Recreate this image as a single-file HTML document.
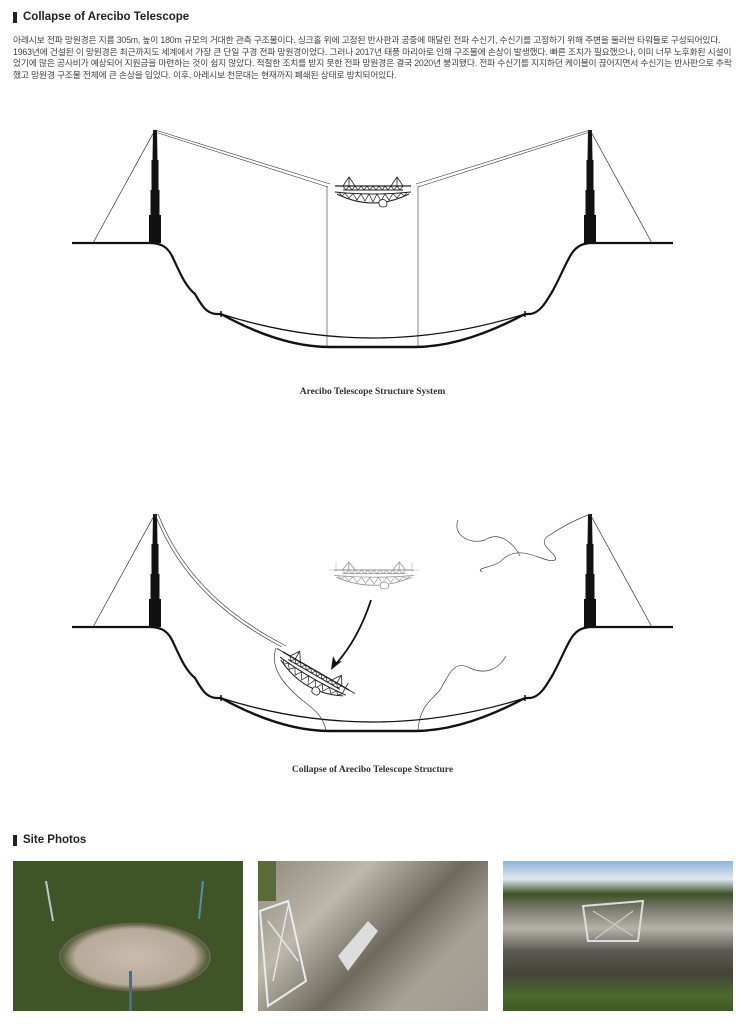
<!DOCTYPE html>
<html><head><meta charset="utf-8">
<style>
html,body{margin:0;padding:0;background:#fff;}
body{width:745px;height:1024px;position:relative;overflow:hidden;font-family:"Liberation Sans","Noto Sans CJK KR",sans-serif;}
.h{position:absolute;left:13px;font-size:11.5px;font-weight:bold;color:#222;display:flex;align-items:center;}
.h:before{content:"";display:inline-block;width:4px;height:11px;background:#222;margin-right:6px;}
.p{position:absolute;left:13px;top:35px;font-size:8.8px;line-height:11.6px;color:#444;letter-spacing:-0.2px;white-space:nowrap;}
.cap{position:absolute;width:745px;text-align:center;font-family:"Liberation Serif","DejaVu Serif",serif;font-weight:bold;font-size:9.5px;color:#333;}
.ph{position:absolute;top:861px;width:230px;height:150px;overflow:hidden;}
</style></head><body>
<div class="h" style="top:11px">Collapse of Arecibo Telescope</div>
<div class="p">아레시보 전파 망원경은 지름 305m, 높이 180m 규모의 거대한 관측 구조물이다. 싱크홀 위에 고정된 반사판과 공중에 매달린 전파 수신기, 수신기를 고정하기 위해 주변을 둘러싼 타워들로 구성되어있다.<br>1963년에 건설된 이 망원경은 최근까지도 세계에서 가장 큰 단일 구경 전파 망원경이었다. 그러나 2017년 태풍 마리아로 인해 구조물에 손상이 발생했다. 빠른 조치가 필요했으나, 이미 너무 노후화된 시설이<br>었기에 많은 공사비가 예상되어 지원금을 마련하는 것이 쉽지 않았다. 적절한 조치를 받지 못한 전파 망원경은 결국 2020년 붕괴됐다. 전파 수신기를 지지하던 케이블이 끊어지면서 수신기는 반사판으로 추락<br>했고 망원경 구조물 전체에 큰 손상을 입었다. 이후, 아레시보 천문대는 현재까지 폐쇄된 상태로 방치되어있다.</div>

<svg width="745" height="800" style="position:absolute;left:0;top:0" xmlns="http://www.w3.org/2000/svg">
<defs>
<g id="plat">
  <path d="M-30,0 L-24,-9 L-18,0 M-24,-9 L-24,0 M18,0 L24,-9 L30,0 M24,-9 L24,0" stroke="#222" stroke-width="0.8" fill="none"/>
  <line x1="-38" y1="0" x2="38" y2="0" stroke="#222" stroke-width="1.3"/>
  <line x1="-30" y1="4" x2="30" y2="4" stroke="#222" stroke-width="1"/>
  <path d="M-30,0 L-27,4 L-24,0 L-21,4 L-18,0 L-15,4 L-12,0 L-9,4 L-6,0 L-3,4 L0,0 L3,4 L6,0 L9,4 L12,0 L15,4 L18,0 L21,4 L24,0 L27,4 L30,0" stroke="#222" stroke-width="0.7" fill="none"/>
  <path d="M-38,6 Q0,10 38,6" stroke="#222" stroke-width="1" fill="none"/>
  <path d="M-36,8 Q0,26 36,8" stroke="#222" stroke-width="1" fill="none"/>
  <path d="M-34,6.5 L-31,10 L-28,7 L-24,12 L-20,7.5 L-16,14 L-12,8 L-8,15 L-4,8 L0,16 L4,8 L8,15 L12,8 L16,14 L20,7.5 L24,12 L28,7 L31,10 L34,6.5" stroke="#222" stroke-width="0.7" fill="none"/>
  <path d="M6,16 Q6,14 10,13.5 Q14,14 14,18 Q14,21 10,21 Q6,21 6,18Z" stroke="#222" stroke-width="0.8" fill="#fff"/>
</g>
<g id="tower">
  <polygon points="-2,0 2,0 2.5,30 3.5,30 3.5,60 4.5,60 4.5,85 6,85 6,113 -6,113 -6,85 -4.5,85 -4.5,60 -3.5,60 -3.5,30 -2.5,30" fill="#111"/>
</g>
<g id="base">
  <path d="M72,243 L150,243 C162,243 168,248 172,256 C178,268 184,285 195,294 C202,306 206,313 216,314 L221,314" stroke="#111" stroke-width="2.2" fill="none"/>
  <path d="M221,314 C250,330 290,347 330,347 L415,347 C455,347 495,330 525,314" stroke="#111" stroke-width="2.4" fill="none"/>
  <path d="M525,314 L530,314 C540,313 546,302 552,292 C560,278 566,262 572,253 C577,246 583,243 592,243 L673,243" stroke="#111" stroke-width="2.2" fill="none"/>
  <path d="M221,314 Q372,362 525,314" stroke="#111" stroke-width="1.3" fill="none"/>
  <line x1="221" y1="311" x2="221" y2="317" stroke="#111" stroke-width="1.5"/>
  <line x1="525" y1="311" x2="525" y2="317" stroke="#111" stroke-width="1.5"/>
  <use href="#tower" transform="translate(155,130)"/>
  <use href="#tower" transform="translate(590,130)"/>
  <line x1="155" y1="130" x2="93" y2="243" stroke="#333" stroke-width="0.7"/>
  <line x1="590" y1="130" x2="652" y2="243" stroke="#333" stroke-width="0.7"/>
</g>
</defs>

<use href="#base"/>
<g stroke="#333" stroke-width="0.6" fill="none">
  <line x1="155" y1="130" x2="330" y2="184"/><line x1="155" y1="132" x2="328" y2="187"/>
  <line x1="590" y1="130" x2="416" y2="184"/><line x1="590" y1="132" x2="418" y2="187"/>
  <line x1="327" y1="186" x2="327" y2="347"/><line x1="418" y1="186" x2="418" y2="347"/>
</g>
<use href="#plat" transform="translate(373,186)"/>

<g transform="translate(0,384)"><use href="#base"/></g>
<g transform="translate(374,570)" opacity="0.45"><use href="#plat" transform="scale(1.05,0.9)"/>
  <line x1="-45" y1="0" x2="45" y2="0" stroke="#555" stroke-width="0.6"/>
  <line x1="-38" y1="-8" x2="-38" y2="2" stroke="#555" stroke-width="0.6"/>
  <line x1="38" y1="-8" x2="38" y2="2" stroke="#555" stroke-width="0.6"/>
</g>
<g stroke="#444" stroke-width="0.7" fill="none">
  <path d="M155,514 C180,580 230,620 282,647"/>
  <path d="M158,514 C185,582 236,620 286,646"/>
  <path d="M276,648 C268,670 290,690 302,700 C315,710 322,715 326,730"/>
  <path d="M590,514 C575,520 560,528 548,536 C535,545 560,555 555,560 C545,565 520,540 500,562 C490,568 475,568 482,572"/>
  <path d="M458,520 C452,535 470,545 485,540 C500,530 515,545 520,556"/>
  <path d="M506,656 C498,670 485,675 470,668 C455,660 450,672 440,690 C432,700 420,705 418,730"/>
</g>
<g transform="translate(316,671) rotate(30)"><use href="#plat"/><line x1="-45" y1="0" x2="45" y2="0" stroke="#222" stroke-width="0.8"/><line x1="34" y1="-6" x2="34" y2="6" stroke="#222" stroke-width="0.8"/></g>
<path d="M371,600 C362,628 350,648 336,664" stroke="#111" stroke-width="1.8" fill="none"/>
<polygon points="331,670 333,656 336,662 342,661" fill="#111"/>
</svg>

<div class="cap" style="top:387px">Arecibo Telescope Structure System</div>
<div class="cap" style="top:765px">Collapse of Arecibo Telescope Structure</div>

<div class="h" style="top:834px">Site Photos</div>

<div class="ph" style="left:13px;background:radial-gradient(ellipse 75px 35px at 122px 96px,#c9bdaf 0,#b8a999 80%,#3f5427 100%),radial-gradient(ellipse at 30% 20%,#4e6a34,#2c401a 60%,#3e5a23);">
<svg width="230" height="150" style="position:absolute;left:0;top:0"><rect x="116" y="110" width="3" height="40" fill="#3d6f9a"/><line x1="33" y1="20" x2="40" y2="60" stroke="#b9c8d2" stroke-width="2"/><line x1="190" y1="20" x2="186" y2="58" stroke="#5a8cb0" stroke-width="2"/><ellipse cx="122" cy="96" rx="75" ry="33" fill="none" stroke="#6e6354" stroke-width="2"/></svg>
</div>
<div class="ph" style="left:258px;background:linear-gradient(135deg,#8f8a7d 0,#bdb7ac 30%,#6e6a5c 55%,#a9a397 75%,#9f9a90 100%);">
<svg width="230" height="150" style="position:absolute;left:0;top:0"><path d="M2,50 L30,40 L48,120 L10,145Z" fill="none" stroke="#e8eef0" stroke-width="2"/><path d="M10,60 L40,100 M30,45 L15,120" stroke="#e0e6ea" stroke-width="1.5"/><rect x="0" y="0" width="18" height="40" fill="#5a6b3a"/><path d="M80,95 L110,60 L120,70 L90,110Z" fill="#ddd"/></svg>
</div>
<div class="ph" style="left:503px;background:linear-gradient(180deg,#8fb3da 0,#dfe8f0 12%,#3c5226 22%,#7d7a6f 32%,#b6b2a8 45%,#5c5a52 60%,#454339 75%,#4a6a2c 90%,#3f5a24 100%);">
<svg width="230" height="150" style="position:absolute;left:0;top:0"><path d="M80,45 L140,40 L135,80 L85,80Z" fill="none" stroke="#ddd" stroke-width="2"/><path d="M90,50 L130,75 M130,50 L92,78" stroke="#ccc" stroke-width="1.2"/></svg>
</div>
</body></html>
